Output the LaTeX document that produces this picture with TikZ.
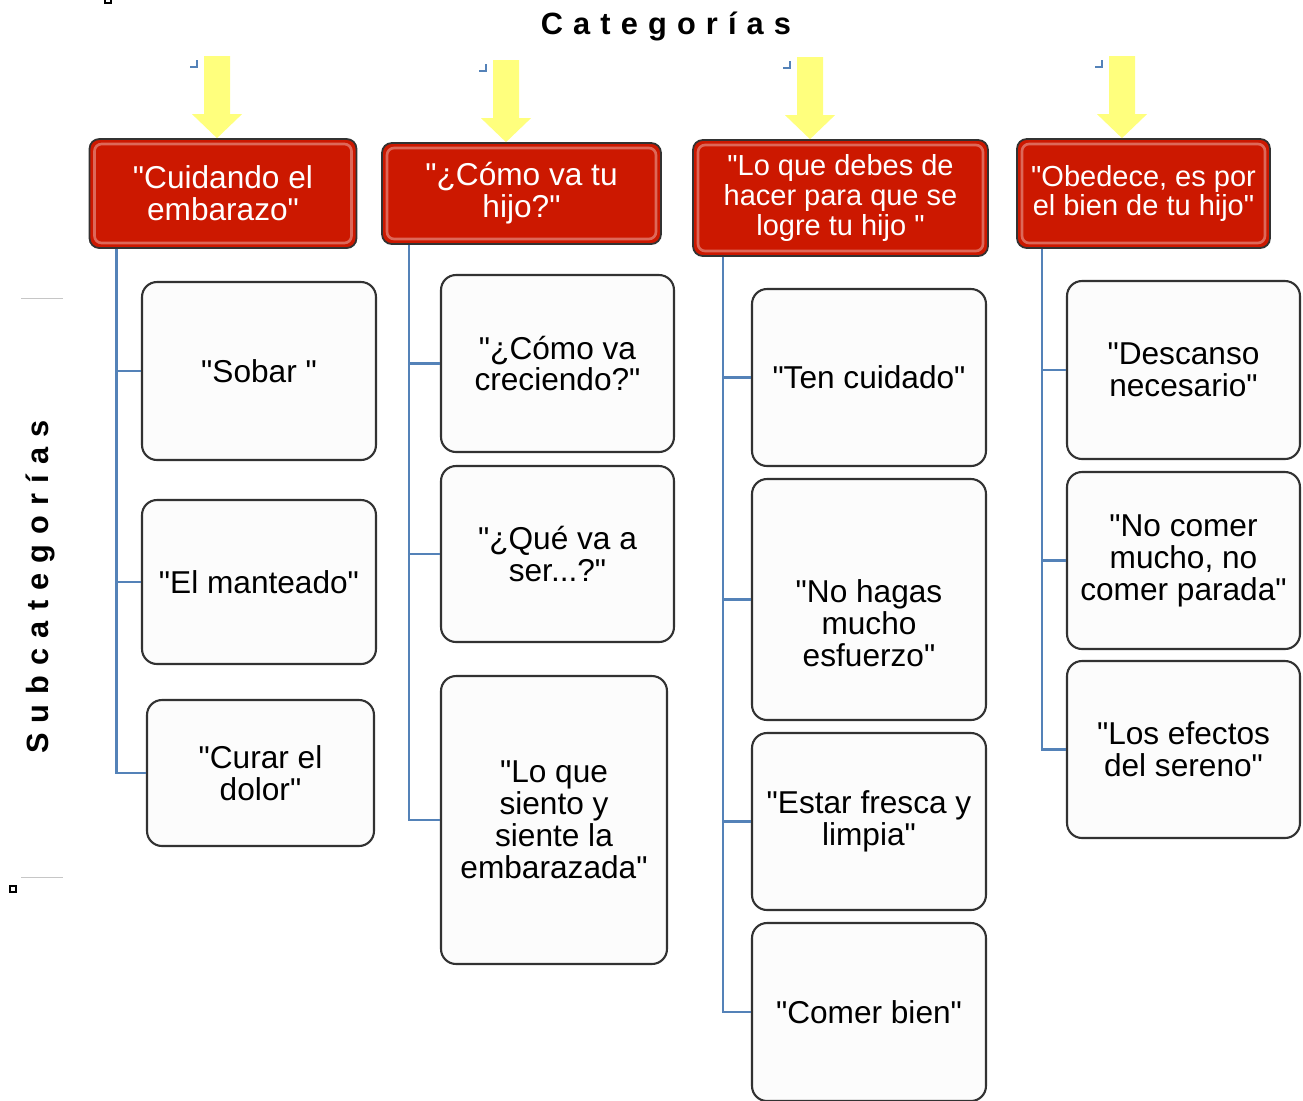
\documentclass[tikz,border=0pt]{standalone}
\usepackage{fontspec}
\setmainfont{Liberation Sans}[Ligatures=TeXOff]
\usetikzlibrary{calc,positioning}
\definecolor{HeadRed}{RGB}{204,24,0}
\definecolor{EdgeGray}{RGB}{50,50,50}
\definecolor{ArrowYellow}{RGB}{255,255,125}
\definecolor{LinkBlue}{RGB}{84,130,184}
\definecolor{BoxWhite}{RGB}{252,252,252}
\newcommand{\catarrow}[2]{%
  \fill[ArrowYellow] ($(#1.north)+(#2,0)$) -- ++(-25,-24) -- ++(12,0) -- ++(0,-58)
    -- ++(26,0) -- ++(0,58) -- ++(12,0) -- cycle;
  \draw[LinkBlue,line width=1.1pt] ($(#1.north)+(#2-27,-71)$) -- ++(7,0) -- ++(0,-7);}
\tikzset{
  catbox/.style={draw=EdgeGray,line width=1pt,fill=HeadRed,rounded corners=5.5pt,
    text=white,align=center,inner sep=0pt,font=\fontsize{18}{18.2}\selectfont,
    path picture={\draw[white,opacity=.35,line width=1.5pt,rounded corners=4pt]
      ($(path picture bounding box.south west)+(5,-5)$) rectangle
      ($(path picture bounding box.north east)+(-5,5)$);}},
  subbox/.style={draw=EdgeGray,line width=1.2pt,fill=BoxWhite,rounded corners=8.5pt,
    align=center,inner sep=0pt,font=\fontsize{18}{18.2}\selectfont},
  link/.style={LinkBlue,line width=1.4pt},
  spaced/.style={font=\fontsize{17.5}{19}\selectfont\bfseries\addfontfeature{LetterSpace=33}}
}

\begin{document}
\begin{tikzpicture}[x=0.02cm,y=-0.02cm]
  \useasboundingbox (0,0) rectangle (1303,1100);
  % titles
  \node[spaced] (cat) at (666,26) {Categorías};
  \node[spaced,rotate=90] (subcat) at (40,587) {Subcategorías};
  \draw[gray!45] (21,298) -- (63,298);
  \draw[gray!45] (21,877) -- (63,877);
  \draw[line width=.8pt] (10,886) rectangle (16,892);
  \draw[line width=.8pt] (105,-3) rectangle (111,3);

  % categories
  \node[catbox,minimum width=5.34cm,minimum height=2.18cm] (h1) at (223,193.5)
    {"Cuidando el\\embarazo"};
  \node[catbox,minimum width=5.58cm,minimum height=2.02cm] (h2) at (521.5,193.5)
    {"¿Cómo va tu\\hijo?"};
  \node[catbox,minimum width=5.9cm,minimum height=2.32cm,
    font=\fontsize{16.5}{17}\selectfont] (h3) at (840.5,198)
    {"Lo que debes de\\hacer para que se\\logre tu hijo "};
  \node[catbox,minimum width=5.06cm,minimum height=2.18cm,
    font=\fontsize{16.5}{17}\selectfont] (h4) at (1143.5,193.5)
    {"Obedece, es por\\el bien de tu hijo"};
  \catarrow{h1}{-6}
  \catarrow{h2}{-15.5}
  \catarrow{h3}{-30.5}
  \catarrow{h4}{-21.5}

  % subcategories
  \node[subbox,minimum width=4.68cm,minimum height=3.56cm] (c11) at (259,371) {"Sobar "};
  \node[subbox,minimum width=4.68cm,minimum height=3.28cm] (c12) at (259,582) {"El manteado"};
  \node[subbox,minimum width=4.54cm,minimum height=2.92cm] (c13) at (260.5,773) {"Curar el\\dolor"};

  \node[subbox,minimum width=4.66cm,minimum height=3.54cm] (c21) at (557.5,363.5) {"¿Cómo va\\creciendo?"};
  \node[subbox,minimum width=4.66cm,minimum height=3.52cm] (c22) at (557.5,554) {"¿Qué va a\\ser...?"};
  \node[subbox,minimum width=4.52cm,minimum height=5.76cm] (c23) at (554,820)
    {"Lo que\\siento y\\siente la\\embarazada"};

  \node[subbox,minimum width=4.68cm,minimum height=3.54cm] (c31) at (869,377.5) {"Ten cuidado"};
  \node[subbox,minimum width=4.68cm,minimum height=4.82cm] (c32) at (869,599.5)
    {\parbox[c][4cm][c]{4.4cm}{\centering\vspace{0.94cm}"No hagas\\mucho\\esfuerzo"}};
  \node[subbox,minimum width=4.68cm,minimum height=3.54cm] (c33) at (869,821.5) {"Estar fresca y\\limpia"};
  \node[subbox,minimum width=4.68cm,minimum height=3.56cm] (c34) at (869,1012) {"Comer bien"};

  \node[subbox,minimum width=4.66cm,minimum height=3.56cm] (c41) at (1183.5,370) {"Descanso\\necesario"};
  \node[subbox,minimum width=4.66cm,minimum height=3.54cm] (c42) at (1183.5,560.5)
    {"No comer\\mucho, no\\comer parada"};
  \node[subbox,minimum width=4.66cm,minimum height=3.54cm] (c43) at (1183.5,749.5) {"Los efectos\\del sereno"};

  % connectors
  \foreach \h/\d/\c in {h1/28/c11,h1/28/c12,h1/28/c13,h2/28/c21,h2/28/c22,h2/28/c23,
      h3/31/c31,h3/31/c32,h3/31/c33,h3/31/c34,h4/26/c41,h4/26/c42,h4/26/c43}
    \draw[link] ($(\h.south west)+(\d,0)$) |- (\c.west);
\end{tikzpicture}
\end{document}
